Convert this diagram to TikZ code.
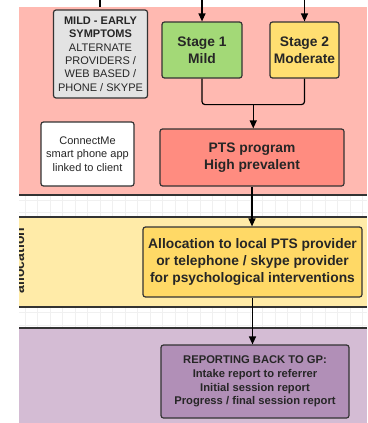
\documentclass[tikz,border=0pt]{standalone}
\usepackage{fontspec}
\setmainfont{Liberation Sans}
\usetikzlibrary{positioning, arrows.meta, calc}

\definecolor{laneRed}{HTML}{FFB9B1}
\definecolor{laneYellow}{HTML}{FFEBA8}
\definecolor{lanePurple}{HTML}{D4BCD4}
\definecolor{stageGreen}{HTML}{A3D977}
\definecolor{stageYellow}{HTML}{FFDF71}
\definecolor{ptsRed}{HTML}{FF8C80}
\definecolor{allocYellow}{HTML}{FFD966}
\definecolor{reportPurple}{HTML}{B18FB7}
\definecolor{boxGray}{HTML}{E3E3E3}
\definecolor{ink}{HTML}{333333}

\begin{document}
\begin{tikzpicture}[x=1pt, y=-1pt,
    box/.style={rectangle, rounded corners=2.5pt, draw=ink, line width=1.2pt, text centered, align=center, text=black!85, inner sep=2pt},
    stage/.style={box, font=\fontsize{13.8}{16.5}\selectfont\bfseries},
    note/.style={box, font=\fontsize{11}{13.4}\selectfont},
    laneline/.style={draw=ink, line width=1.2pt},
    gridline/.style={draw=gray!12, line width=0.5pt, step=12.5pt},
    line/.style={draw=black, line width=1.2pt},
    arrow/.style={line, -{Triangle[length=8pt, width=7pt]}},
]
\useasboundingbox (0,0) rectangle (367,423);

% Lanes
\fill[white] (0,0) rectangle (367,423);
\draw[gridline] (19,195) grid (367,217);
\draw[gridline] (19,307) grid (367,328);
\fill[laneRed] (19,7) rectangle (367,195);
\fill[laneYellow] (19,217) rectangle (367,307);
\fill[lanePurple] (19,328) rectangle (367,423);
\draw[laneline] (19,195) -- (367,195);
\draw[laneline] (19,217) -- (367,217);
\draw[laneline] (19,307) -- (367,307);
\draw[laneline] (19,328) -- (367,328);
\begin{scope}
  \clip (19,217) rectangle (367,307);
  \node[rotate=90, anchor=base, font=\fontsize{14}{16}\selectfont\bfseries, text=black!85] (laneAlloc) at (24,260.5) {allocation};
\end{scope}

% Nodes
\node[note, fill=boxGray, minimum width=94pt, minimum height=88pt] (symptoms) at (100.5,54)
  {\textbf{MILD - EARLY}\\\textbf{SYMPTOMS}\\ALTERNATE\\PROVIDERS /\\WEB BASED /\\PHONE / SKYPE};
\node[stage, fill=stageGreen, minimum width=80pt, minimum height=56pt] (stage1) at (202,50) {Stage 1\\Mild};
\node[stage, fill=stageYellow, minimum width=69pt, minimum height=56pt] (stage2) at (304.5,50) {Stage 2\\Moderate};
\node[note, fill=white, minimum width=93pt, minimum height=64pt] (connectMe) at (87.5,154)
  {ConnectMe\\smart phone app\\linked to client};
\node[stage, fill=ptsRed, minimum width=184pt, minimum height=57pt] (pts) at (252,157.5) {PTS program\\High prevalent};
\node[box, fill=allocYellow, minimum width=219pt, minimum height=70pt, font=\fontsize{13.8}{16.7}\selectfont\bfseries] (alloc) at (252.5,262)
  {Allocation to local PTS provider\\or telephone / skype provider\\for psychological interventions};
\node[box, fill=reportPurple, minimum width=188pt, minimum height=73pt, font=\fontsize{11.2}{13.7}\selectfont\bfseries] (report) at (255,381.5)
  {REPORTING BACK TO GP:\\Intake report to referrer\\Initial session report\\Progress / final session report};

\coordinate (symIn) at (100,0);
\coordinate (redTop) at (19,7);
\coordinate (stage1In) at (202,0);
\coordinate (stage2In) at (304.5,0);

% Connections
\draw[line] (symIn) -- (symIn |- redTop);
\draw[arrow] (stage1In) -- (stage1.north);
\draw[arrow] (stage2In) -- (stage2.north);
\draw[line, rounded corners=3pt] (stage1.south) -- ++(0,26) -| (stage2.south);
\coordinate (merge) at ($(stage1.south)!0.5!(stage2.south)+(0,26)$);
\draw[arrow] (merge) -- (merge |- pts.north);
\draw[arrow] (pts.south) -- (pts.south |- alloc.north);
\draw[arrow] (alloc.south) -- (alloc.south |- report.north);

\end{tikzpicture}
\end{document}
